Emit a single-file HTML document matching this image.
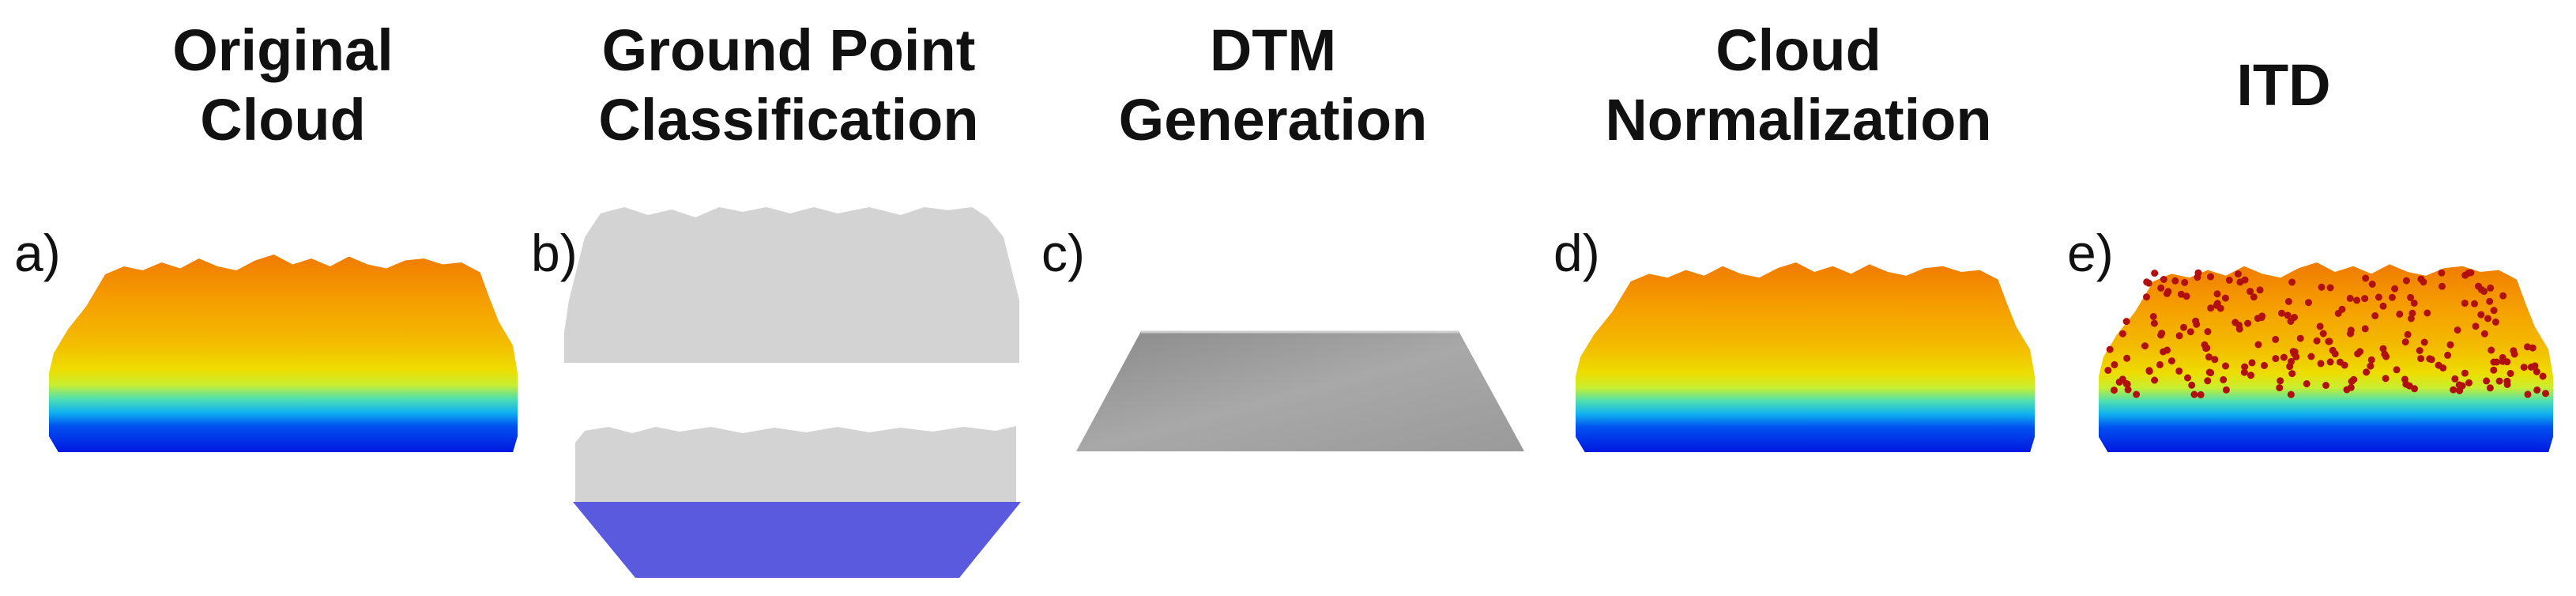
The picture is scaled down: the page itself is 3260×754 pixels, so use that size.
<!DOCTYPE html>
<html><head><meta charset="utf-8"><style>
html,body{margin:0;padding:0;background:#fff;}
body{width:3260px;height:754px;position:relative;overflow:hidden;font-family:"Liberation Sans",sans-serif;}
.t{position:absolute;font-weight:bold;font-size:74px;line-height:88px;text-align:center;color:#111;width:700px;}
.l{position:absolute;font-size:66px;color:#111;top:282px;}
svg{position:absolute;left:0;top:0;}
</style></head><body>
<div class="t" style="left:8px;top:20px">Original<br>Cloud</div>
<div class="t" style="left:648px;top:20px">Ground Point<br>Classification</div>
<div class="t" style="left:1261px;top:20px">DTM<br>Generation</div>
<div class="t" style="left:1926px;top:20px">Cloud<br>Normalization</div>
<div class="t" style="left:2540px;top:64px">ITD</div>
<div class="l" style="left:18px">a)</div>
<div class="l" style="left:672px">b)</div>
<div class="l" style="left:1318px">c)</div>
<div class="l" style="left:1966px">d)</div>
<div class="l" style="left:2616px">e)</div>
<svg width="3260" height="754" viewBox="0 0 3260 754">
<defs>
<linearGradient id="g" x1="0" y1="0" x2="0" y2="1">
<stop offset="0" stop-color="#f07a00"/>
<stop offset="0.25" stop-color="#f5a000"/>
<stop offset="0.45" stop-color="#f3bc00"/>
<stop offset="0.58" stop-color="#eedc00"/>
<stop offset="0.66" stop-color="#c8ee30"/>
<stop offset="0.73" stop-color="#50e0b0"/>
<stop offset="0.80" stop-color="#10b0f0"/>
<stop offset="0.87" stop-color="#0050f0"/>
<stop offset="1" stop-color="#0018e0"/>
</linearGradient>
<linearGradient id="dg" x1="0" y1="0" x2="1" y2="1">
<stop offset="0" stop-color="#8a8a8a"/>
<stop offset="0.5" stop-color="#a8a8a8"/>
<stop offset="1" stop-color="#9a9a9a"/>
</linearGradient>
<symbol id="cl" viewBox="0 0 100 100" preserveAspectRatio="none">
<polygon fill="url(#g)" points="2,100 0,92 0,60 1,50 4,38 8,26 12,10 16,6 20,8 24,4 28,7 32,2 36,6 40,8 44,3 48,0 52,5 56,2 60,6 64,1 68,5 72,7 76,3 80,2 84,5 88,4 92,9 94,22 96,34 99,46 100,60 100,92 99,100"/>
</symbol>
</defs>
<use href="#cl" x="62" y="322" width="593" height="250"/>
<path fill="#d3d3d3" d="M714,459 L714,420 L720,380 L730,340 L740,300 L760,270 L790,262 L820,272 L850,265 L880,275 L910,262 L940,268 L970,262 L1000,270 L1030,262 L1060,270 L1100,262 L1140,272 L1170,262 L1200,266 L1230,262 L1250,275 L1270,300 L1280,340 L1290,380 L1290,459 Z"/>
<path fill="#d3d3d3" d="M728,635 L728,560 L740,545 L770,540 L800,548 L830,540 L860,546 L900,540 L940,548 L980,541 L1020,547 L1060,540 L1100,547 L1140,541 L1180,546 L1220,540 L1260,545 L1286,539 L1286,635 Z"/>
<polygon fill="#5a5ade" points="725,635 1292,635 1214,731 804,731"/>
<polygon fill="url(#dg)" points="1444,419 1846,419 1929,571 1362,571"/>
<line x1="1444" y1="420" x2="1846" y2="420" stroke="#ccc" stroke-width="3"/>
<use href="#cl" x="1994" y="332" width="581" height="240"/>
<use href="#cl" x="2656" y="332" width="575" height="240"/>
<g id="dots" fill="#b01010"></g>
</svg>
<script>
var g=document.getElementById('dots'),s=7;
function r(){s=(s*16807)%2147483647;return s/2147483647;}
var h='';
for(var i=0;i<230;i++){
 var y=r(),x=r();
 var yy=345+y*155;
 var half=(yy<440)?(0.38+0.12*(yy-345)/95):0.49;
 var xx=2943+(x*2-1)*half*575;
 h+='<circle cx="'+xx.toFixed(1)+'" cy="'+yy.toFixed(1)+'" r="4.5"/>';
}
g.innerHTML=h;
</script>
</body></html>
